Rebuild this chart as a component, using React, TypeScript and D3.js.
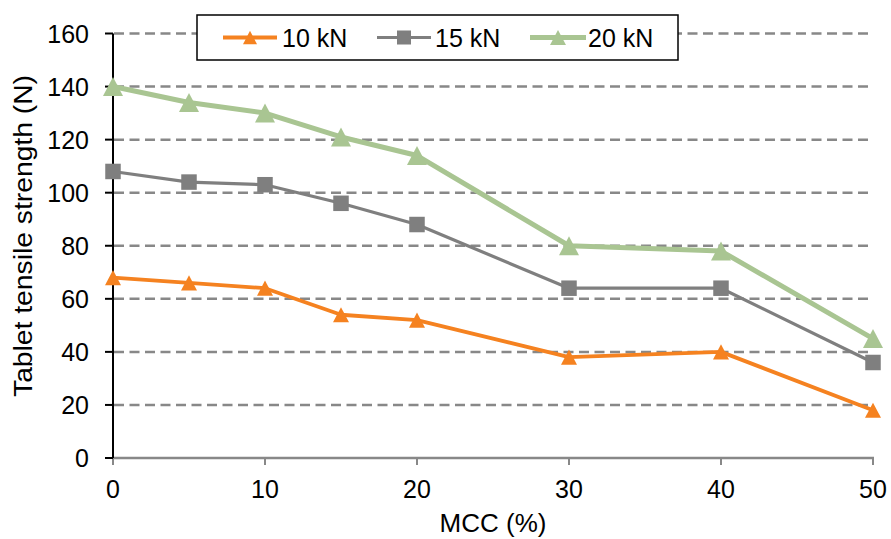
import React from "react";
import * as d3 from "d3";

const mcc = [0, 5, 10, 15, 20, 30, 40, 50];
const kn10 = [68, 66, 64, 54, 52, 38, 40, 18];
const kn15 = [108, 104, 103, 96, 88, 64, 64, 36];
const kn20 = [140, 134, 130, 121, 114, 80, 78, 45];
const yTicks = [0, 20, 40, 60, 80, 100, 120, 140, 160];
const xTicks = [0, 10, 20, 30, 40, 50];
const seriesNames = ["10 kN", "15 kN", "20 kN"];

const W = 891, H = 539;
const font = "'Liberation Sans', Arial, sans-serif";

export default function App() {
  const x = d3.scaleLinear().domain([0, 50]).range([113, 873]);
  const y = d3.scaleLinear().domain([0, 160]).range([458, 33.5]);
  const line = d3.line<number>().x((_, i) => x(mcc[i])).y((v) => y(v));

  const series = [
    { name: seriesNames[0], vals: kn10, color: "#F58220", width: 3.8, marker: "tri", size: 16, lsize: 14 },
    { name: seriesNames[1], vals: kn15, color: "#7F7F7F", width: 3.2, marker: "sq", size: 15.5, lsize: 14 },
    { name: seriesNames[2], vals: kn20, color: "#A9C592", width: 5, marker: "tri", size: 20, lsize: 16 },
  ];

  const marker = (type: string, cx: number, cy: number, s: number, color: string, key: any) => {
    if (type === "sq") {
      return <rect key={key} x={cx - s / 2} y={cy - s / 2} width={s} height={s} fill={color} />;
    }
    const h = s * 0.95;
    return (
      <path
        key={key}
        d={`M${cx},${cy - h / 2} L${cx + s / 2},${cy + h / 2} L${cx - s / 2},${cy + h / 2} Z`}
        fill={color}
      />
    );
  };

  const legendItems = [
    { lx1: 223, lx2: 277, tx: 282 },
    { lx1: 377, lx2: 431, tx: 435 },
    { lx1: 530, lx2: 586, tx: 588 },
  ];

  return (
    <svg width={W} height={H} style={{ position: "absolute", left: 0, top: 0, background: "#fff" }} fontFamily={font}>
      {/* gridlines */}
      {yTicks.filter((t) => t > 0).map((t) => (
        <line key={"g" + t} x1={114} x2={873} y1={y(t)} y2={y(t)} stroke="#888888" strokeWidth={2.5} strokeDasharray="10,5.5" />
      ))}
      {/* x axis */}
      <line x1={112} x2={874} y1={y(0)} y2={y(0)} stroke="#888888" strokeWidth={2.5} />
      {xTicks.map((t) => (
        <g key={"xt" + t}>
          <line x1={x(t)} x2={x(t)} y1={y(0)} y2={y(0) + 7} stroke="#888888" strokeWidth={2} />
          <text x={x(t)} y={498} textAnchor="middle" fontSize={25} fill="#000">{t}</text>
        </g>
      ))}
      {/* y axis */}
      <line x1={113} x2={113} y1={y(160)} y2={y(0)} stroke="#000" strokeWidth={2} />
      {yTicks.map((t) => (
        <g key={"yt" + t}>
          <line x1={105} x2={113} y1={y(t)} y2={y(t)} stroke="#000" strokeWidth={2} />
          <text x={89} y={y(t) + 9} textAnchor="end" fontSize={25} fill="#000">{t}</text>
        </g>
      ))}
      <text transform={`translate(32,236) rotate(-90)`} textAnchor="middle" fontSize={26} fill="#000"
        textLength={322} lengthAdjust="spacingAndGlyphs">
        Tablet tensile strength (N)
      </text>
      <text x={493} y={532} textAnchor="middle" fontSize={26} fill="#000">MCC (%)</text>

      {/* series */}
      {series.map((s) => (
        <g key={s.name}>
          <path d={line(s.vals) || ""} fill="none" stroke={s.color} strokeWidth={s.width} strokeLinejoin="round" />
          {s.vals.map((v, i) => marker(s.marker, x(mcc[i]), y(v), s.size, s.color, i))}
        </g>
      ))}

      {/* legend */}
      <rect x={197} y={15} width={481} height={45} fill="#fff" stroke="#000" strokeWidth={1.5} />
      {series.map((s, i) => {
        const li = legendItems[i];
        const cy = 37.5;
        return (
          <g key={"lg" + i}>
            <line x1={li.lx1} x2={li.lx2} y1={cy} y2={cy} stroke={s.color} strokeWidth={s.width} />
            {marker(s.marker, (li.lx1 + li.lx2) / 2, cy, s.lsize, s.color, "m")}
            <text x={li.tx} y={46.5} fontSize={25} fill="#000">{s.name}</text>
          </g>
        );
      })}
    </svg>
  );
}
